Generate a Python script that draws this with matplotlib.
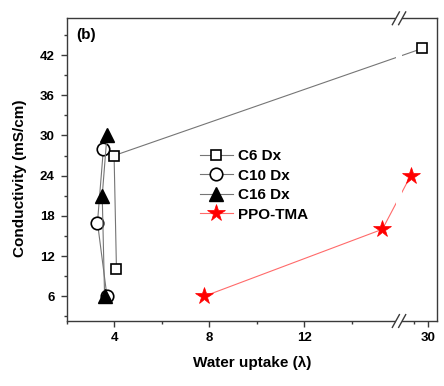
import numpy as np
import matplotlib
matplotlib.use("Agg")
import matplotlib.pyplot as plt
from matplotlib.lines import Line2D

plt.rcParams['font.family'] = ['Liberation Sans', 'DejaVu Sans']
plt.rcParams['font.weight'] = 'bold'

# Water uptake (lambda) and conductivity (mS/cm) per membrane
c6_x = [4.1, 4.0, 29.8]
c6_y = [10, 27, 43]
c10_x = [3.7, 3.3, 3.55]
c10_y = [6, 17, 28]
c16_x = [3.6, 3.5, 3.7]
c16_y = [6, 21, 30]
ppo_x = [7.8, 15.3, 29.4]
ppo_y = [6, 16, 24]

x_major = [4, 8, 12, 30]
x_minor = [2, 6, 10, 14, 29.5]
y_major = [6, 12, 18, 24, 30, 36, 42]
y_minor = [3, 9, 15, 21, 27, 33, 39, 45]

# broken x axis: [2, 16] then [29, 30.3]
BRK_LO, BRK_HI, R = 16.0, 29.0, 1.227


def fwd(x):
    x = np.asarray(x, dtype=float)
    return np.where(x <= BRK_LO, x,
                    np.where(x >= BRK_HI, BRK_LO + (x - BRK_HI) * R, BRK_LO))


def inv(u):
    u = np.asarray(u, dtype=float)
    return np.where(u <= BRK_LO, u, BRK_HI + (u - BRK_LO) / R)


fig = plt.figure(figsize=(4.44, 3.86), dpi=100)
ax = fig.add_axes([0.150, 0.1684, 0.834, 0.7842])
ax.set_xscale('function', functions=(fwd, inv))
ax.set_xlim(2, 30.3)
ax.set_ylim(2.3, 47.5)

gray = '#757575'
ax.plot(c6_x, c6_y, '-', color=gray, lw=0.8, marker='s', ms=7.8,
        mfc='white', mec='black', mew=1.2, label='C6 Dx', zorder=3)
ax.plot(c10_x, c10_y, '-', color=gray, lw=0.8, marker='o', ms=9,
        mfc='white', mec='black', mew=1.2, label='C10 Dx', zorder=3)
ax.plot(c16_x, c16_y, '-', color=gray, lw=0.8, marker='^', ms=9.5,
        mfc='black', mec='black', mew=1.0, label='C16 Dx', zorder=4)
ax.plot(ppo_x, ppo_y, '-', color='#ff6a6a', lw=0.8, marker='*', ms=13,
        mfc='red', mec='red', mew=0.5, label='PPO-TMA', zorder=3)

ax.set_xticks(x_major)
ax.set_xticks(x_minor, minor=True)
ax.set_xticklabels([str(v) for v in x_major])
ax.set_yticks(y_major)
ax.set_yticks(y_minor, minor=True)

for s in ax.spines.values():
    s.set_color('#3a3a3a')
    s.set_linewidth(1.0)
ax.tick_params(which='both', direction='out', top=False, right=False,
               color='#3a3a3a', width=1.0, labelsize=9.5)
ax.tick_params(which='major', length=4.3)
ax.tick_params(which='minor', length=2.2)
ax.tick_params(axis='y', which='major', pad=4.5)
ax.tick_params(axis='x', which='major', pad=3.5)
for lab in ax.get_xticklabels() + ax.get_yticklabels():
    lab.set_fontweight('bold')

ax.set_xlabel('Water uptake (λ)', fontsize=11, fontweight='bold', labelpad=9)
ax.set_ylabel('Conductivity (mS/cm)', fontsize=11, fontweight='bold')
ax.yaxis.set_label_coords(-0.108, 0.47)

ax.text(0.025, 0.968, '(b)', transform=ax.transAxes, fontsize=11,
        fontweight='bold', ha='left', va='top')

leg = ax.legend(loc='upper left', bbox_to_anchor=(0.36, 0.568), frameon=False,
                fontsize=11, handlelength=2.16, handletextpad=0.33,
                labelspacing=0.36, borderpad=0, borderaxespad=0, numpoints=1)
for t in leg.get_texts():
    t.set_fontweight('bold')

# axis break: white gap across frame and lines, then the // marks
xb = (fwd(BRK_LO) - 2) / (fwd(30.3) - 2)
gap = 0.0085
ax.add_patch(plt.Rectangle((xb - gap, -0.02), 2 * gap, 1.04,
                           transform=ax.transAxes, facecolor='white',
                           edgecolor='none', clip_on=False, zorder=10))
dx, dy = 0.0095, 0.021
for yb in (0.0, 1.0):
    for off in (-gap, gap):
        ax.add_line(Line2D([xb + off - dx, xb + off + dx], [yb - dy, yb + dy],
                           transform=ax.transAxes, color='#3a3a3a', lw=1.0,
                           clip_on=False, zorder=11))

fig.savefig('out.png', dpi=100)
